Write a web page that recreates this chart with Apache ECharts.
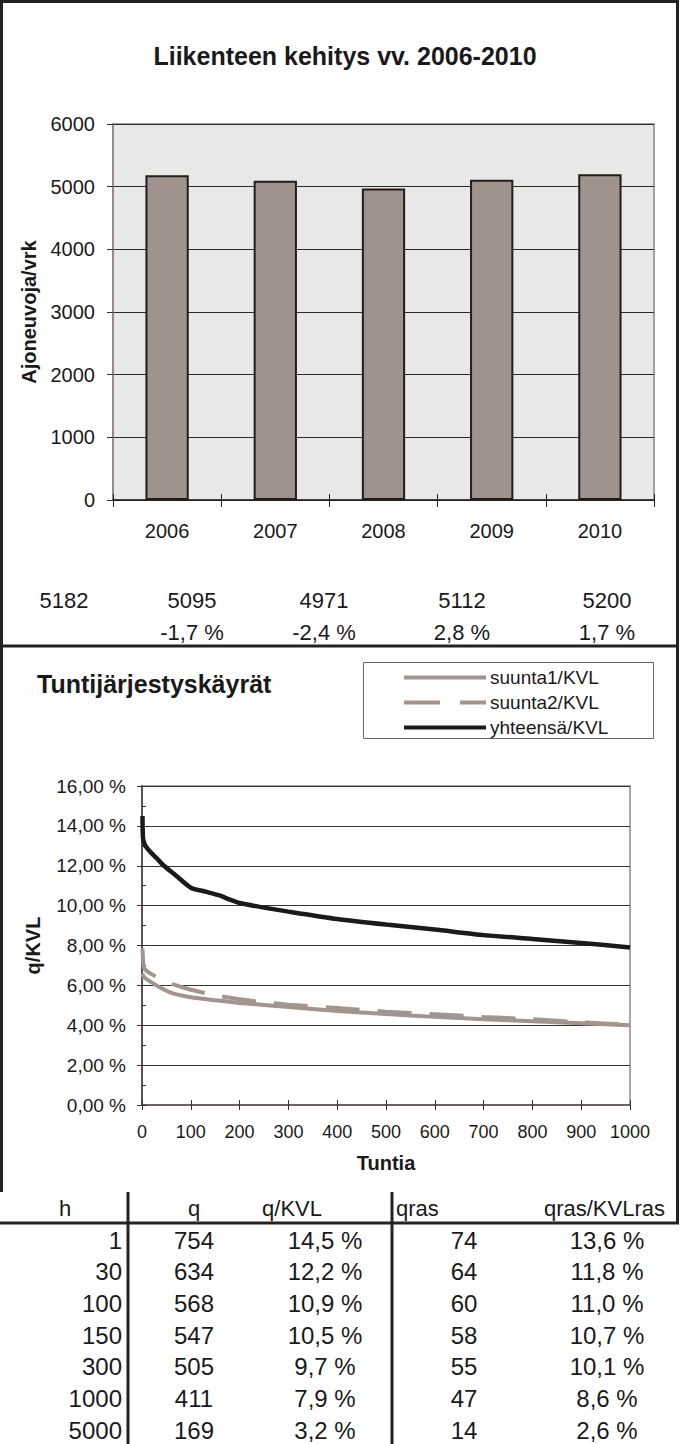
<!DOCTYPE html>
<html>
<head>
<meta charset="utf-8">
<script src="https://cdn.jsdelivr.net/npm/echarts@6/dist/echarts.min.js"></script>
<style>
html,body{margin:0;padding:0;background:#fff;}
#c{width:690px;height:1444px;}
</style>
</head>
<body>
<div id="c"></div>
<script>
// ---- Data ----
const years = ['2006', '2007', '2008', '2009', '2010'];
const kvl = [5182, 5095, 4971, 5112, 5200];
const kvlText = ['5182', '5095', '4971', '5112', '5200'];
const changeText = ['', '-1,7 %', '-2,4 %', '2,8 %', '1,7 %'];

const suunta1 = [[1,6.6],[3,6.45],[10,6.3],[20,6.15],[40,5.85],[60,5.62],[100,5.4],[150,5.25],[200,5.12],[300,4.92],[400,4.72],[500,4.56],[600,4.42],[700,4.3],[800,4.2],[900,4.1],[1000,4.0]];
const suunta2 = [[1,7.85],[3,7.0],[6,6.8],[20,6.55],[40,6.3],[60,6.08],[100,5.78],[150,5.5],[200,5.3],[250,5.15],[300,5.03],[400,4.86],[500,4.68],[600,4.55],[700,4.42],[800,4.3],[900,4.15],[1000,4.02]];
const yhteensa = [[1,14.5],[2,13.4],[5,13.1],[10,12.9],[20,12.62],[30,12.38],[45,12.0],[70,11.5],[100,10.9],[130,10.7],[160,10.5],[180,10.3],[200,10.13],[250,9.9],[300,9.7],[400,9.33],[500,9.05],[600,8.8],[700,8.52],[800,8.33],[900,8.13],[1000,7.9]];

const tblHeaders = ['h', 'q', 'q/KVL', 'qras', 'qras/KVLras'];
const tblH = ['1', '30', '100', '150', '300', '1000', '5000'];
const tblQ = ['754', '634', '568', '547', '505', '411', '169'];
const tblQKVL = ['14,5 %', '12,2 %', '10,9 %', '10,5 %', '9,7 %', '7,9 %', '3,2 %'];
const tblQras = ['74', '64', '60', '58', '55', '47', '14'];
const tblQrasKVL = ['13,6 %', '11,8 %', '11,0 %', '10,7 %', '10,1 %', '8,6 %', '2,6 %'];

// ---- Styling ----
const FONT = "'Liberation Sans', Arial, sans-serif";
const GRAYBAR = '#a0928d';
const GRAYLINE = '#a2958f';
const FRAME = '#222';

const graphic = [];
function txt(s, x, y, size, align, weight) {
  graphic.push({type: 'text', silent: true, style: {text: s, x: x, y: y, fill: '#1a1a1a',
    font: (weight || 'normal') + ' ' + size + 'px ' + FONT, textAlign: align, textVerticalAlign: 'middle'}});
}
function line(x1, y1, x2, y2, w, c) {
  graphic.push({type: 'line', silent: true, shape: {x1: x1, y1: y1, x2: x2, y2: y2}, style: {stroke: c, lineWidth: w}});
}

// frame
line(0, 1.5, 679, 1.5, 3, FRAME);
line(1.5, 0, 1.5, 1192, 3, FRAME);
line(677.5, 0, 677.5, 1223, 3, FRAME);
line(0, 646, 679, 646, 3, FRAME);

// yearly numbers row
const numX = [64, 192, 324, 462, 607];
kvlText.forEach((s, i) => txt(s, numX[i], 600, 22, 'center'));
changeText.forEach((s, i) => { if (s) txt(s, numX[i], 632, 22, 'center'); });

// legend box
graphic.push({type: 'rect', silent: true, shape: {x: 363.5, y: 662.5, width: 290, height: 76}, style: {fill: 'none', stroke: '#666', lineWidth: 1}});

// table
line(0, 1223, 679, 1223, 3, FRAME);
line(128, 1192, 128, 1444, 3, FRAME);
line(392, 1192, 392, 1444, 3, FRAME);
txt(tblHeaders[0], 65, 1208, 22, 'center');
txt(tblHeaders[1], 194, 1208, 22, 'center');
txt(tblHeaders[2], 292, 1208, 22, 'center');
txt(tblHeaders[3], 396, 1208, 22, 'left');
txt(tblHeaders[4], 665, 1208, 22, 'right');
for (let i = 0; i < tblH.length; i++) {
  const y = 1240 + i * 31.67;
  txt(tblH[i], 122, y, 24, 'right');
  txt(tblQ[i], 194, y, 24, 'center');
  txt(tblQKVL[i], 325, y, 24, 'center');
  txt(tblQras[i], 464, y, 24, 'center');
  txt(tblQrasKVL[i], 607, y, 24, 'center');
}

const ICON_SOLID = 'path://M0,0h82v4h-82z';
const ICON_DASH = 'path://M0,0h36v4h-36zM56,0h26v4h-26z';

const chart = echarts.init(document.getElementById('c'), null, {renderer: 'svg'});
const option = {
  backgroundColor: '#fff',
  animation: false,
  textStyle: {fontFamily: FONT},
  title: [
    {text: 'Liikenteen kehitys vv. 2006-2010', left: 'center', top: 43, padding: 0,
     textStyle: {fontSize: 25, fontWeight: 'bold', color: '#1a1a1a', fontFamily: FONT}},
    {text: 'Tuntijärjestyskäyrät', left: 37, top: 671, padding: 0,
     textStyle: {fontSize: 25, fontWeight: 'bold', color: '#1a1a1a', fontFamily: FONT}}
  ],
  legend: {
    data: [
      {name: 'suunta1/KVL', icon: ICON_SOLID},
      {name: 'suunta2/KVL', icon: ICON_DASH},
      {name: 'yhteensä/KVL', icon: ICON_SOLID}
    ],
    orient: 'vertical', left: 404, top: 668, padding: 0,
    itemWidth: 82, itemHeight: 4, itemGap: 6,
    textStyle: {fontSize: 19, color: '#1a1a1a', fontFamily: FONT, padding: [0, 0, 0, -1]},
    selectedMode: false
  },
  grid: [
    {left: 113, top: 124, width: 541, height: 376, show: true, backgroundColor: '#e8e8e6',
     borderColor: '#aaa09c', borderWidth: 2, containLabel: false},
    {left: 142, top: 786, width: 488, height: 319, show: true, backgroundColor: '#fff',
     borderColor: '#b0a7a3', borderWidth: 2, containLabel: false}
  ],
  xAxis: [
    {type: 'category', gridIndex: 0, data: years,
     axisLine: {lineStyle: {color: '#222', width: 1.5}},
     axisTick: {show: true, length: 7, lineStyle: {color: '#222'}},
     axisLabel: {fontSize: 20, color: '#1a1a1a', margin: 21}},
    {type: 'category', gridIndex: 0, data: years, position: 'bottom',
     axisLine: {show: false}, axisLabel: {show: false},
     axisTick: {show: true, inside: true, length: 6, lineStyle: {color: '#222'}}},
    {type: 'value', gridIndex: 1, min: 0, max: 1000, interval: 100,
     name: 'Tuntia', nameLocation: 'middle', nameGap: 48,
     nameTextStyle: {fontSize: 20, fontWeight: 'bold', color: '#1a1a1a'},
     axisLine: {lineStyle: {color: '#6e6360', width: 2}},
     axisTick: {show: true, length: 5, lineStyle: {color: '#333'}},
     splitLine: {show: false},
     axisLabel: {fontSize: 18, color: '#1a1a1a', margin: 18, formatter: v => String(v)}},
    {type: 'value', gridIndex: 1, min: 0, max: 1000, interval: 100, position: 'bottom',
     axisLine: {show: false}, axisLabel: {show: false}, splitLine: {show: false},
     axisTick: {show: true, inside: true, length: 5, lineStyle: {color: '#333'}}}
  ],
  yAxis: [
    {type: 'value', gridIndex: 0, min: 0, max: 6000, interval: 1000,
     name: 'Ajoneuvoja/vrk', nameLocation: 'middle', nameGap: 74,
     nameTextStyle: {fontSize: 20, fontWeight: 'bold', color: '#1a1a1a'},
     axisLine: {show: true, lineStyle: {color: '#8d8480', width: 1.5}},
     axisTick: {show: true, length: 6, lineStyle: {color: '#333'}},
     splitLine: {lineStyle: {color: '#2a2a2a', width: 1}},
     axisLabel: {fontSize: 20, color: '#1a1a1a', margin: 18, formatter: v => String(v)}},
    {type: 'value', gridIndex: 1, min: 0, max: 16, interval: 2,
     name: 'q/KVL', nameLocation: 'middle', nameGap: 99,
     nameTextStyle: {fontSize: 20, fontWeight: 'bold', color: '#1a1a1a'},
     axisLine: {show: true, lineStyle: {color: '#5e5250', width: 2}},
     axisTick: {show: true, length: 5, lineStyle: {color: '#333'}},
     splitLine: {lineStyle: {color: '#333', width: 1}},
     axisLabel: {fontSize: 19, color: '#1a1a1a', margin: 16,
       formatter: v => v.toFixed(2).replace('.', ',') + ' %'}},
    {type: 'value', gridIndex: 1, min: 0, max: 16, interval: 2, position: 'left',
     axisLine: {show: false}, axisLabel: {show: false}, splitLine: {show: false},
     axisTick: {show: true, inside: true, length: 5, lineStyle: {color: '#333'}},
     minorTick: {show: true, splitNumber: 2, length: 4, lineStyle: {color: '#333'}}}
  ],
  series: [
    {type: 'bar', xAxisIndex: 0, yAxisIndex: 0, data: kvl, barWidth: '40%',
     itemStyle: {color: GRAYBAR, borderColor: '#1e1e1e', borderWidth: 2}},
    {name: 'suunta1/KVL', type: 'line', xAxisIndex: 2, yAxisIndex: 1, data: suunta1,
     symbol: 'none', smooth: 0.2, lineStyle: {color: GRAYLINE, width: 4}, itemStyle: {color: GRAYLINE}},
    {name: 'suunta2/KVL', type: 'line', xAxisIndex: 2, yAxisIndex: 1, data: suunta2,
     symbol: 'none', smooth: 0.2, lineStyle: {color: GRAYLINE, width: 4, type: [34, 18]}, itemStyle: {color: GRAYLINE}},
    {name: 'yhteensä/KVL', type: 'line', xAxisIndex: 2, yAxisIndex: 1, data: yhteensa,
     symbol: 'none', smooth: 0.2, lineStyle: {color: '#1a1a1a', width: 4.5}, itemStyle: {color: '#1a1a1a'}}
  ],
  graphic: graphic
};
chart.setOption(option);
</script>
</body>
</html>
